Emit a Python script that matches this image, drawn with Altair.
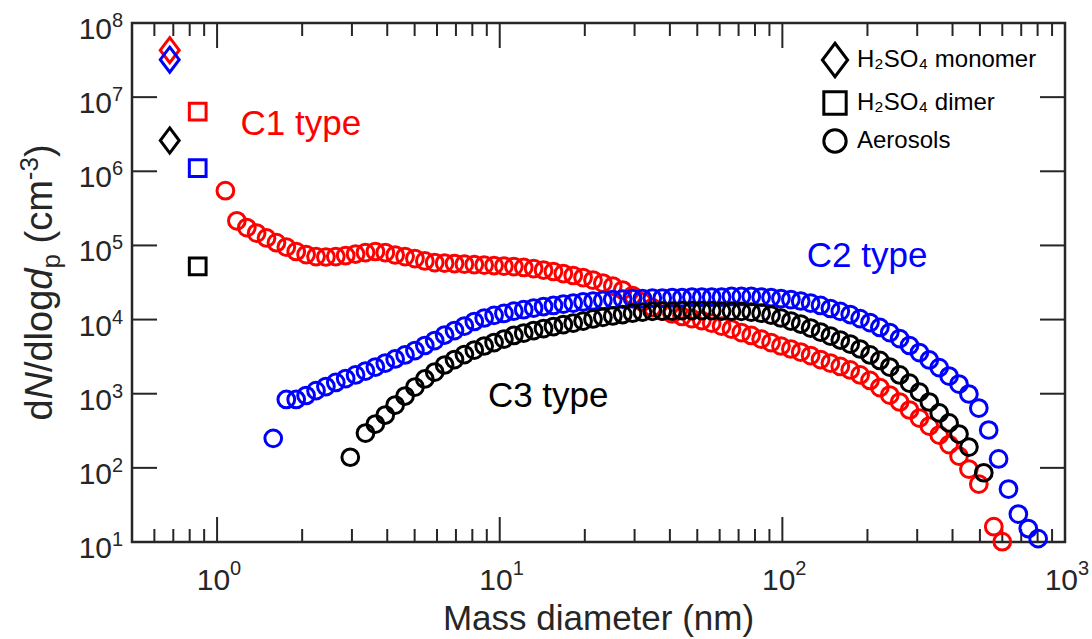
import altair as alt
import pandas as pd

# ---------------- data ----------------
# common log-spaced diameter grid (nm)
GRID = [1.175, 1.274, 1.380, 1.496, 1.622, 1.758, 1.905, 2.065, 2.239, 2.427,
        2.630, 2.851, 3.090, 3.350, 3.631, 3.936, 4.266, 4.624, 5.012, 5.433,
        5.888, 6.383, 6.918, 7.499, 8.128, 8.810, 9.550, 10.35, 11.22, 12.16,
        13.18, 14.29, 15.49, 16.79, 18.20, 19.72, 21.38, 23.17, 25.12, 27.23,
        29.51, 31.99, 34.67, 37.58, 40.74, 44.16, 47.86, 51.88, 56.23, 60.95,
        66.07, 71.61, 77.62, 84.14, 91.20, 98.86, 107.2, 116.1, 125.9, 136.5,
        147.9, 160.3, 173.8, 188.4, 204.2, 221.3, 239.9, 260.0, 281.8, 305.5,
        331.1, 358.9, 389.0, 421.7, 457.1, 495.5, 537.0, 582.1, 631.0, 683.9,
        741.3]

SERIES = ["C1", "C2", "C3"]
COLORS = ["#ff0000", "#0000ff", "#000000"]
KINDS = ["H\u2082SO\u2084 monomer", "H\u2082SO\u2084 dimer", "Aerosols"]

MONO_D = 0.68
DIMER_D = 0.854
MONO_N = [4.3e7, 3.2e7, 2.6e6]
DIMER_N = [6.4e6, 1.1e6, 5.2e4]

C1_D = [1.07] + GRID[0:76] + [559.8, 599.8]
C1_N = [5.47e5,
        2.15e5, 1.74e5, 1.47e5, 1.26e5, 1.09e5, 9.5e4, 8.28e4, 7.54e4, 7.08e4, 6.98e4,
        7.08e4, 7.31e4, 7.66e4, 8.02e4, 8.28e4, 8.02e4, 7.43e4, 7.08e4, 6.65e4, 6.17e4,
        5.88e4, 5.79e4, 5.70e4, 5.61e4, 5.52e4, 5.44e4, 5.36e4, 5.27e4, 5.19e4, 5.04e4,
        4.88e4, 4.66e4, 4.45e4, 4.18e4, 3.93e4, 3.69e4, 3.41e4, 3.11e4, 2.83e4, 2.50e4,
        2.11e4, 1.73e4, 1.45e4, 1.30e4, 1.19e4, 1.10e4, 1.03e4, 9.71e3, 8.98e3, 8.18e3,
        7.45e3, 6.68e3, 6.10e3, 5.46e3, 4.90e3, 4.40e3, 4.01e3, 3.65e3, 3.27e3, 2.89e3,
        2.59e3, 2.33e3, 2.09e3, 1.79e3, 1.51e3, 1.21e3, 960, 773, 603, 470,
        366, 277, 206, 144, 96.4, 60.5,
        16.1, 10.1]

C2_D = [1.58] + GRID[5:81] + [803.5]
C2_N = [250,
        836, 836, 946, 1.10e3, 1.25e3,
        1.42e3, 1.60e3, 1.79e3, 2.02e3, 2.29e3, 2.59e3, 2.94e3, 3.33e3, 3.82e3, 4.47e3,
        5.21e3, 6.19e3, 7.11e3, 8.18e3, 9.42e3, 1.05e4, 1.14e4, 1.21e4, 1.30e4, 1.36e4,
        1.43e4, 1.50e4, 1.55e4, 1.62e4, 1.67e4, 1.73e4, 1.78e4, 1.81e4, 1.86e4, 1.89e4,
        1.92e4, 1.92e4, 1.95e4, 1.95e4, 1.98e4, 1.98e4, 2.01e4, 2.01e4, 2.01e4, 2.01e4,
        2.05e4, 2.05e4, 2.05e4, 2.01e4, 1.98e4, 1.92e4, 1.86e4, 1.78e4, 1.67e4, 1.55e4,
        1.41e4, 1.29e4, 1.17e4, 1.03e4, 9.12e3, 7.82e3, 6.68e3, 5.55e3, 4.47e3, 3.59e3,
        2.85e3, 2.25e3, 1.73e3, 1.35e3, 991, 641, 324, 132, 51.8, 23.8,
        15.2,
        11.1]

C3_D = [2.96] + GRID[13:75] + [516.0]
C3_N = [139,
        295, 390, 516, 703, 931, 1.23e3, 1.58e3,
        1.96e3, 2.44e3, 2.89e3, 3.37e3, 3.88e3, 4.40e3, 4.90e3, 5.46e3, 6.10e3, 6.58e3,
        7.11e3, 7.57e3, 8.05e3, 8.57e3, 8.98e3, 9.55e3, 1.02e4, 1.07e4, 1.12e4, 1.17e4,
        1.22e4, 1.26e4, 1.29e4, 1.30e4, 1.30e4, 1.32e4, 1.32e4, 1.32e4, 1.32e4, 1.30e4,
        1.30e4, 1.29e4, 1.26e4, 1.22e4, 1.15e4, 1.05e4, 9.55e3, 8.71e3, 7.69e3, 6.79e3,
        6.00e3, 5.30e3, 4.68e3, 4.01e3, 3.33e3, 2.81e3, 2.29e3, 1.79e3, 1.39e3, 1.05e3,
        773, 550, 403, 286, 191,
        85.9]

ANN_TEXT = ["C1 type", "C2 type", "C3 type"]
ANN_D = [1.21, 122.0, 9.08]
ANN_N = [3.08e6, 5.1e4, 661]

X_MAJOR = [1, 10, 100, 1000]
X_MINOR = [0.6, 0.7, 0.8, 0.9, 2, 3, 4, 5, 6, 7, 8, 9,
           20, 30, 40, 50, 60, 70, 80, 90, 200, 300, 400, 500, 600, 700, 800, 900]
X_LABELS = [1, 10, 100, 1000]
X_EXP = ["0", "1", "2", "3"]
Y_MAJOR = [1e2, 1e3, 1e4, 1e5, 1e6, 1e7]
Y_LABELS = [1e1, 1e2, 1e3, 1e4, 1e5, 1e6, 1e7, 1e8]
Y_EXP = ["1", "2", "3", "4", "5", "6", "7", "8"]

# ---------------- table ----------------
rows = []
series_data = [(C1_D, C1_N), (C2_D, C2_N), (C3_D, C3_N)]
for i, s in enumerate(SERIES):
    rows.append({"series": s, "kind": KINDS[0], "d": MONO_D, "n": MONO_N[i]})
    rows.append({"series": s, "kind": KINDS[1], "d": DIMER_D, "n": DIMER_N[i]})
    dd, nn = series_data[i]
    for d, n in zip(dd, nn):
        rows.append({"series": s, "kind": KINDS[2], "d": d, "n": n})
df = pd.DataFrame(rows)
df["idx"] = range(len(df))

# ---------------- styling ----------------
W, H = 933, 519
AX = "#262626"
FONT = "Liberation Sans"
XS = alt.Scale(type="log", domain=[0.5, 1000], nice=False)
YS = alt.Scale(type="log", domain=[10, 1e8], nice=False)
CS = alt.Scale(domain=SERIES, range=COLORS)
DIAMOND = "M0,-1.5L1.13,0L0,1.5L-1.13,0Z"
SHAPES = [DIAMOND, "square", "circle"]
one = pd.DataFrame({"a": [0]})

def xenc(field="v"):
    return alt.X(f"{field}:Q", scale=XS, axis=None)

def yenc(field="v"):
    return alt.Y(f"{field}:Q", scale=YS, axis=None)

points = alt.Chart(df).mark_point(
    filled=False, color="black", size=280, strokeWidth=3, opacity=1
).encode(
    x=xenc("d"),
    y=yenc("n"),
    color=alt.Color("series:N", scale=CS, legend=None),
    shape=alt.Shape(
        "kind:N",
        scale=alt.Scale(domain=KINDS, range=SHAPES),
        legend=alt.Legend(
            title=None, orient="none", legendX=690, legendY=24,
            symbolSize=500, symbolStrokeWidth=3, symbolStrokeColor="black",
            labelFontSize=24, labelFont=FONT, labelColor="black", labelLimit=0,
            rowPadding=2, labelOffset=9, padding=0,
        ),
    ),
    order=alt.Order("idx:Q"),
)

ann_df = pd.DataFrame({"t": ANN_TEXT, "d": ANN_D, "n": ANN_N, "series": SERIES})
ann = alt.Chart(ann_df).mark_text(
    align="left", baseline="alphabetic", fontSize=35, font=FONT
).encode(x=xenc("d"), y=yenc("n"), text="t:N",
         color=alt.Color("series:N", scale=CS, legend=None))

def xrules(vals, length):
    d = pd.DataFrame({"v": vals})
    b = alt.Chart(d).mark_rule(color=AX, strokeWidth=2).encode(
        x=xenc(), y=alt.value(H), y2=alt.value(H - length))
    t = alt.Chart(d).mark_rule(color=AX, strokeWidth=2).encode(
        x=xenc(), y=alt.value(0), y2=alt.value(length))
    return [b, t]

def yrules(vals, length):
    d = pd.DataFrame({"v": vals})
    l = alt.Chart(d).mark_rule(color=AX, strokeWidth=2).encode(
        y=yenc(), x=alt.value(0), x2=alt.value(length))
    r = alt.Chart(d).mark_rule(color=AX, strokeWidth=2).encode(
        y=yenc(), x=alt.value(W), x2=alt.value(W - length))
    return [l, r]

xl_df = pd.DataFrame({"v": X_LABELS, "e": X_EXP})
yl_df = pd.DataFrame({"v": Y_LABELS, "e": Y_EXP})

x_base = alt.Chart(xl_df).mark_text(
    align="right", baseline="alphabetic", dx=13, fontSize=30, font=FONT, color=AX
).encode(x=xenc(), y=alt.value(H + 48), text=alt.value("10"))
x_exp = alt.Chart(xl_df).mark_text(
    align="left", baseline="alphabetic", dx=13, fontSize=20, font=FONT, color=AX
).encode(x=xenc(), y=alt.value(H + 33), text="e:N")
y_base = alt.Chart(yl_df).mark_text(
    align="right", baseline="alphabetic", dy=16, fontSize=30, font=FONT, color=AX
).encode(y=yenc(), x=alt.value(-20), text=alt.value("10"))
y_exp = alt.Chart(yl_df).mark_text(
    align="left", baseline="alphabetic", dy=4, fontSize=20, font=FONT, color=AX
).encode(y=yenc(), x=alt.value(-20), text="e:N")

x_title = alt.Chart(one).mark_text(
    text="Mass diameter (nm)", align="center", baseline="alphabetic",
    fontSize=35, font=FONT, color=AX
).encode(x=alt.value(W / 2), y=alt.value(H + 88))

# y-axis title built from pieces (rotated, reading upward)
YT = [  # text, y, x, size, italic
    ("d", 397.6, -80, 38, False),
    ("N", 376.5, -80, 38, True),
    ("/dlog", 349.1, -80, 38, False),
    ("d", 266.7, -80, 38, True),
    ("p", 245.6, -72, 26, False),
    ("(cm", 220.5, -80, 38, False),
    ("-3", 157.2, -94, 26, False),
    (")", 134.1, -80, 38, False),
]
y_title = []
for t, yy, xx, sz, it in YT:
    y_title.append(alt.Chart(one).mark_text(
        text=t, angle=270, align="left", baseline="alphabetic",
        fontSize=sz, font=FONT, color=AX, fontStyle="italic" if it else "normal"
    ).encode(x=alt.value(xx), y=alt.value(yy)))

layers = (xrules(X_MAJOR, 25) + xrules(X_MINOR, 13) + yrules(Y_MAJOR, 25)
          + [points, ann, x_base, x_exp, y_base, y_exp, x_title] + y_title)

chart = alt.layer(*layers).properties(
    width=W, height=H,
    autosize=alt.AutoSizeParams(type="none"),
    padding={"left": 132, "top": 23, "right": 27, "bottom": 97},
).configure_view(stroke=AX, strokeWidth=2.5).configure_legend(
    symbolBaseStrokeColor="black"
)

chart.save("out.html", embed_options={"renderer": "svg", "actions": False})
